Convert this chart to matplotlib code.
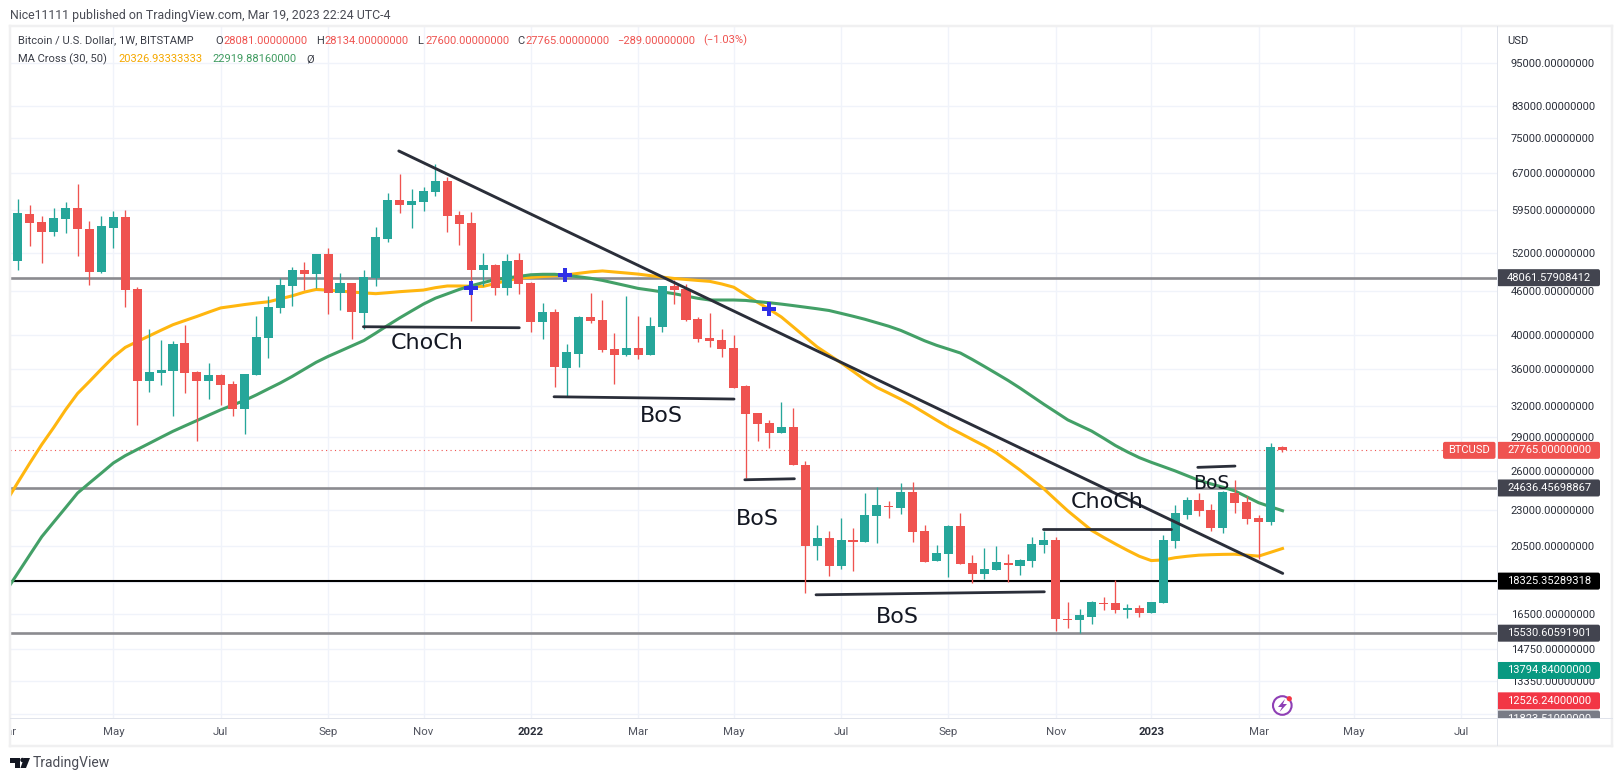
import numpy as np
import matplotlib
matplotlib.use("Agg")
import matplotlib.pyplot as plt
from matplotlib.patches import Circle, FancyBboxPatch, Polygon
from matplotlib.ticker import NullLocator
from matplotlib.transforms import IdentityTransform

W, H = 1621, 781
FONT = "Roboto"

# weeks counted from the first week of May 2021
weeks = np.arange(-9, 99)

opens = [45010, 50730, 58840, 57360, 55630, 57910, 59970, 56100, 48940, 56280, 58280, 46360, 34640, 35530, 35760, 39010, 35610, 34640, 35270, 34280, 31690, 35310, 39720, 43640, 46850, 49250, 48620,
         51820, 45820, 47250, 43000, 48010, 54400, 61520, 60550, 61130, 63100, 65350, 58660, 57180, 49250, 50040, 46510, 50840, 47200, 41790, 43050, 36100, 37750, 42370, 42010, 38270, 37630, 38390,
         37630, 41130, 46810, 46410, 42140, 39670, 39420, 38430, 34060, 31260, 30280, 29360, 29870, 26500, 20500, 21010, 19240, 20880, 20770, 22560, 23260, 23140, 24320, 21460, 19550, 19990, 21830,
         19400, 18760, 19000, 19380, 19240, 19530, 20550, 20880, 16270, 16190, 16340, 17120, 17090, 16710, 16820, 16550, 17110, 20830, 22600, 23710, 22970, 21690, 24210, 23560, 22390, 22130, 28081]
highs = [50840, 61720, 60550, 58470, 59910, 61130, 64730, 57550, 58470, 59410, 59590, 46610, 40830, 39420, 39300, 41350, 35690, 36600, 35350, 34570, 35380, 42550, 45340, 47960, 49720, 50520, 51820,
         52810, 48730, 47250, 49250, 56460, 62840, 66820, 63640, 64120, 68980, 66260, 59410, 59220, 51980, 50200, 51820, 51980, 47450, 44300, 43460, 38880, 42550, 45730, 44770, 40270, 45340, 42550,
         42370, 46810, 47710, 47050, 42370, 42910, 40780, 40010, 34130, 31260, 30540, 32340, 31730, 26840, 21900, 21460, 22360, 21670, 24210, 24680, 23660, 25000, 25130, 21870, 20550, 21900, 22720,
         19880, 20350, 20480, 19970, 19690, 21050, 21480, 21050, 17140, 16750, 17230, 17400, 18380, 17020, 16960, 17140, 21190, 23310, 23910, 24270, 23380, 24420, 25260, 24010, 22600, 28390, 28134]
lows = [45010, 49250, 53150, 50410, 54870, 55450, 51490, 46950, 48830, 52810, 43830, 30090, 33450, 34170, 31000, 33350, 28630, 32720, 32060, 30960, 29240, 35270, 37230, 42910, 43920, 46210, 46510,
        42820, 43370, 39550, 40780, 46850, 53830, 58970, 56280, 59410, 62310, 55570, 53320, 41880, 46810, 45490, 45490, 45630, 40440, 39590, 33990, 32990, 36220, 41660, 37990, 34280, 37470, 37150,
        37590, 40480, 44200, 41920, 39210, 38600, 37390, 33810, 25400, 28630, 27970, 29300, 26500, 17620, 19590, 18640, 19060, 18940, 20740, 20700, 22390, 22680, 20740, 19470, 19530, 18580, 19340,
        18190, 18460, 18980, 18270, 18680, 19180, 20050, 15650, 15780, 15520, 16000, 16710, 16570, 16310, 16360, 16550, 17110, 20370, 22290, 22530, 21510, 21370, 22770, 21970, 19630, 21920, 27600]
closes = [50840, 59030, 57240, 55630, 58100, 59970, 56160, 48940, 56640, 58280, 46210, 34640, 35610, 35840, 38920, 35530, 34640, 35270, 34200, 31690, 35380, 39800, 43780, 46950, 49250, 48620, 51820,
          45820, 47250, 43140, 48110, 54690, 61520, 60550, 61320, 63310, 65350, 58470, 57000, 49250, 50040, 46510, 50680, 47100, 41790, 43050, 36220, 37910, 42370, 41880, 38190, 37630, 38390, 37630,
          41170, 46810, 46210, 42010, 39550, 39340, 38350, 33880, 31190, 30220, 29360, 29870, 26500, 20500, 21010, 19240, 20880, 20770, 22600, 23310, 23160, 24320, 21440, 19490, 20030, 21830, 19360,
          18760, 19040, 19470, 19260, 19590, 20610, 20880, 16240, 16210, 16430, 17140, 17050, 16710, 16800, 16550, 17140, 20880, 22750, 23710, 22920, 21690, 24320, 23510, 22340, 22130, 28060, 27765]
ma30 = [23560, 25080, 26660, 28280, 29850, 31590, 33260, 34560, 35950, 37350, 38510, 39230, 39940, 40670, 41390, 41940, 42490, 43080, 43660, 43890, 44130, 44340, 44520, 44940, 45370, 45900, 46300,
        46200, 46060, 45920, 45790, 45680, 45820, 45970, 46090, 46210, 46560, 46810, 46810, 46770, 46740, 47180, 47610, 47990, 48110, 48240, 48360, 48500, 48730, 48960, 49100, 48940, 48780, 48610,
        48380, 48150, 47940, 47790, 47640, 47500, 47110, 46630, 45520, 44440, 43460, 42410, 41090, 39800, 38560, 37600, 36670, 35700, 34730, 33910, 33290, 32670, 32000, 31280, 30570, 29890, 29310,
        28730, 28170, 27550, 26810, 26080, 25310, 24570, 23720, 22910, 22210, 21530, 21060, 20620, 20210, 19830, 19560, 19600, 19740, 19830, 19900, 19930, 19950, 19960, 19900, 19840, 20080, 20327]
ma50 = [17750, 18800, 19920, 21100, 22100, 23140, 24240, 25030, 25830, 26670, 27300, 27840, 28380, 28940, 29500, 30010, 30520, 31050, 31580, 32060, 32540, 33120, 33760, 34400, 35120, 35920, 36730,
        37420, 38050, 38700, 39360, 40300, 41300, 42290, 43240, 44200, 45030, 45660, 46300, 46850, 47310, 47780, 48020, 48260, 48510, 48580, 48580, 48420, 48200, 47970, 47650, 47250, 46850, 46450,
        46200, 45940, 45680, 45340, 45010, 44770, 44770, 44770, 44710, 44540, 44380, 44190, 43980, 43760, 43540, 43300, 42910, 42520, 42110, 41650, 41190, 40650, 39990, 39330, 38770, 38300, 37830,
        37060, 36260, 35460, 34670, 33840, 32980, 32140, 31360, 30590, 30050, 29520, 28860, 28190, 27630, 27130, 26730, 26370, 26010, 25620, 25240, 24960, 24700, 24410, 23960, 23510, 23210, 22920]

price_ticks = [95000, 83000, 75000, 67000, 59500, 52000, 46000, 40000, 36000, 32000, 29000, 26000, 23000,
               20500, 18250, 16500, 14750, 13350, 12000]
hidden_ticks = [18250, 12000]
month_weeks = [-9, 0, 9, 18, 26, 35, 44, 52, 61, 70, 79, 87, 96, 104, 113]
month_labels = ["Mar", "May", "Jul", "Sep", "Nov", "2022", "Mar", "May", "Jul", "Sep", "Nov", "2023", "Mar", "May", "Jul"]

levels_grey = [48061.57908412, 24636.45698867, 15530.60591901]
level_black = 18325.35289318
last_price = 27765.0

# drawings: (week, price) of both ends
trend_line = ([23.93, 98.02], [71888, 18780])
flat_lines = [([20.96, 34.03], [41125, 40995]),
              ([36.94, 52.03], [32921, 32681]),
              ([52.93, 57.09], [25287, 25368]),
              ([58.90, 78.04], [17545, 17713]),
              ([77.95, 88.66], [21599, 21599]),
              ([90.90, 94.02], [26304, 26413])]
notes = [("ChoCh", 26.32, 39086, 16), ("BoS", 45.98, 30962, 16), ("BoS", 54.01, 22339, 16),
         ("BoS", 65.69, 16344, 16), ("ChoCh", 83.32, 23579, 16), ("BoS", 92.07, 24999, 13.5)]
cross_weeks = [29.96, 37.90, 54.93]
cross_prices = [46553, 48471, 43505]

TEAL = "#26a69a"
RED = "#ef5350"
GRID = "#f0f3fa"
EDGE = "#e0e3eb"
TXT = "#2a2e39"


def add_axes_px(left, top, right, bottom):
    return fig.add_axes([left / W, 1 - bottom / H, (right - left) / W, (bottom - top) / H])


def ftext(x, y, s, color=TXT, size=8.0, **kw):
    fig.text(x / W, 1 - y / H, s, color=color, fontsize=size, family=FONT, va="center", **kw)


def price_tag(axis, value, label, bg, fg, x0, width):
    y = axis.transData.transform((0, value))[1]
    axis.add_patch(FancyBboxPatch((x0, y - 8.5), width, 17, boxstyle="round,pad=0,rounding_size=2",
                                  transform=IdentityTransform(), fc=bg, ec="none", zorder=5))
    axis.text(x0 + 10, y, label, transform=IdentityTransform(), color=fg, fontsize=8.0, family=FONT,
              va="center", ha="left", zorder=6, clip_on=True)


fig = plt.figure(figsize=(W / 100, H / 100), dpi=100, facecolor="white")

ax = add_axes_px(10, 26.7, 1497, 718.3)
ax.set_yscale("log")
ax.yaxis.set_minor_locator(NullLocator())
ax.set_yticks(price_ticks)
ax.set_yticklabels(["" if p in hidden_ticks else f"{p:.8f}" for p in price_ticks], family=FONT, fontsize=8.0, color=TXT)
ax.yaxis.tick_right()
ax.tick_params(axis="y", length=0, pad=10)
ax.set_xticks(month_weeks)
ax.tick_params(axis="x", length=0, labelbottom=False)
ax.set_xlim(-8.66, 115.98)
ax.set_ylim(11850, 106700)
ax.grid(True, color=GRID, lw=1, zorder=0)
ax.set_axisbelow(True)
for s in ax.spines.values():
    s.set_visible(False)

# levels sit behind the candles
for lv in levels_grey:
    ax.axhline(lv, color="#8b8b90", lw=1.9, zorder=1)
ax.axhline(level_black, color="black", lw=1.5, zorder=1)
ax.hlines(last_price, -8.66, 111.45, color=RED, lw=0.8, linestyles=(0, (1, 3)), zorder=1)

ax.plot(weeks, ma30, color="#ffb60f", lw=2.2, zorder=2)
ax.plot(weeks, ma50, color="#43a067", lw=2.2, zorder=2)

o = np.array(opens, dtype=float)
c = np.array(closes, dtype=float)
colors = [TEAL if b >= a else RED for a, b in zip(o, c)]
ax.vlines(weeks, lows, highs, colors=colors, lw=0.95, zorder=3)
ax.bar(weeks, np.abs(c - o), bottom=np.minimum(o, c), width=0.76, color=colors, lw=0, zorder=3)

ax.plot(trend_line[0], trend_line[1], color=TXT, lw=2.1, solid_capstyle="round", zorder=4)
for xs, ys in flat_lines:
    ax.plot(xs, ys, color=TXT, lw=2.0, solid_capstyle="round", zorder=4)
ax.plot(cross_weeks, cross_prices, ls="none", marker="P", ms=9.5, mfc="#2f2fe6", mew=0, zorder=4)
for label, x, y, size in notes:
    ax.text(x, y, label, fontsize=size, family="DejaVu Sans", color="#131722", ha="center", va="center", zorder=4)

# price panel, only for the value tags
ax_price = add_axes_px(1497, 26.7, 1612, 718.3)
ax_price.set_yscale("log")
ax_price.set_ylim(ax.get_ylim())
ax_price.axis("off")
price_tag(ax_price, 48061.57908412, "48061.57908412", "#42444f", "white", 1497, 103)
price_tag(ax_price, 27765, "27765.00000000", RED, "white", 1497, 103)
price_tag(ax_price, 24636.45698867, "24636.45698867", "#42444f", "white", 1497, 103)
price_tag(ax_price, 18325.35289318, "18325.35289318", "black", "white", 1497, 103)
price_tag(ax_price, 15530.60591901, "15530.60591901", "#42444f", "white", 1497, 103)
price_tag(ax_price, 13794.84, "13794.84000000", "#089981", "white", 1497, 103)
price_tag(ax_price, 11823.51, "11823.51000000", "#787b86", "white", 1497, 103)
price_tag(ax_price, 12526.24, "12526.24000000", "#f23645", "white", 1497, 103)

# BTCUSD tag next to the last price
y_last = ax.transData.transform((0, last_price))[1]
ax.add_patch(FancyBboxPatch((1443, y_last - 8.5), 52.5, 17, boxstyle="round,pad=0,rounding_size=2",
                            transform=IdentityTransform(), fc=RED, ec="none", zorder=5))
ax.text(1469, y_last, "BTCUSD", transform=IdentityTransform(), color="white", fontsize=8.0, family=FONT,
        ha="center", va="center", zorder=6)

# time axis
ax_time = add_axes_px(10, 718.3, 1497, 745)
ax_time.set_xlim(ax.get_xlim())
ax_time.set_ylim(0, 1)
ax_time.axis("off")
for wk, label in zip(month_weeks, month_labels):
    bold = label.startswith("20")
    ax_time.text(wk, 0.5, label, fontsize=8.2, family=FONT, color=TXT if bold else "#50535e",
                 fontweight="bold" if bold else "normal", ha="center", va="center", clip_on=True)

# frame and separators
for x0, y0, x1, y1, col, lw in [(9.5, 26, 1612, 26, "#f0f0f1", 2.5), (9.5, 26, 9.5, 745.5, "#f0f0f1", 2.5),
                                (1612, 26, 1612, 745.5, "#f0f0f1", 2.5), (9.5, 745.5, 1612, 745.5, "#f0f0f1", 2.5),
                                (10, 718.3, 1612, 718.3, EDGE, 1), (1497, 26, 1497, 745, EDGE, 1)]:
    fig.add_artist(plt.Line2D([x0 / W, x1 / W], [1 - y0 / H, 1 - y1 / H], color=col, lw=lw * 0.72))

# header texts
ftext(10, 15, "Nice11111 published on TradingView.com, Mar 19, 2023 22:24 UTC-4", color="#4a4c55", size=8.9)
ftext(18, 40.7, "Bitcoin / U.S. Dollar, 1W, BITSTAMP", color="#3a3d47")
for x, letter, value in [(215, "O", "28081.00000000"), (316, "H", "28134.00000000"),
                         (417, "L", "27600.00000000"), (517, "C", "27765.00000000")]:
    ftext(x, 40.7, letter, color="#3a3d47")
    ftext(x + 8, 40.7, value, color=RED)
ftext(617, 40.7, "\u2212289.00000000", color=RED)
ftext(703, 40.7, "(\u22121.03%)", color=RED)
ftext(18, 59.3, "MA Cross (30, 50)", color="#3a3d47")
ftext(118, 59.3, "20326.93333333", color="#f5a800")
ftext(212, 59.3, "22919.88160000", color="#3f9b60")
ftext(306, 59.3, "\u00d8", color="#3a3d47")
ftext(1507, 40.7, "USD", color=TXT)

# TradingView mark
px = IdentityTransform()
for pts in [[(10, 758), (20, 758), (20, 768), (15, 768), (15, 763), (10, 763)],
            [(24, 758), (30, 758), (26, 768), (20.5, 768)]]:
    fig.add_artist(Polygon([(x, H - y) for x, y in pts], transform=px, fc="#131722", ec="none"))
fig.add_artist(Circle((22.5, H - 760), 2.2, transform=px, fc="#131722", ec="none"))
ftext(33, 763, "TradingView", color="#4a4c55", size=10)

# lightning badge
fig.add_artist(Circle((1282.3, H - 705.5), 9.3, transform=px, fc="white", ec="#8e3fb5", lw=1.5))
fig.add_artist(Polygon([(x, H - y) for x, y in [(1285, 699), (1278, 707), (1282, 707), (1279.5, 712), (1287, 704), (1283, 704)]],
                       transform=px, fc="#8e3fb5", ec="none"))
fig.add_artist(Circle((1289.3, H - 698.7), 2.6, transform=px, fc="#f23645", ec="none"))

fig.savefig("out.png", dpi=100)
